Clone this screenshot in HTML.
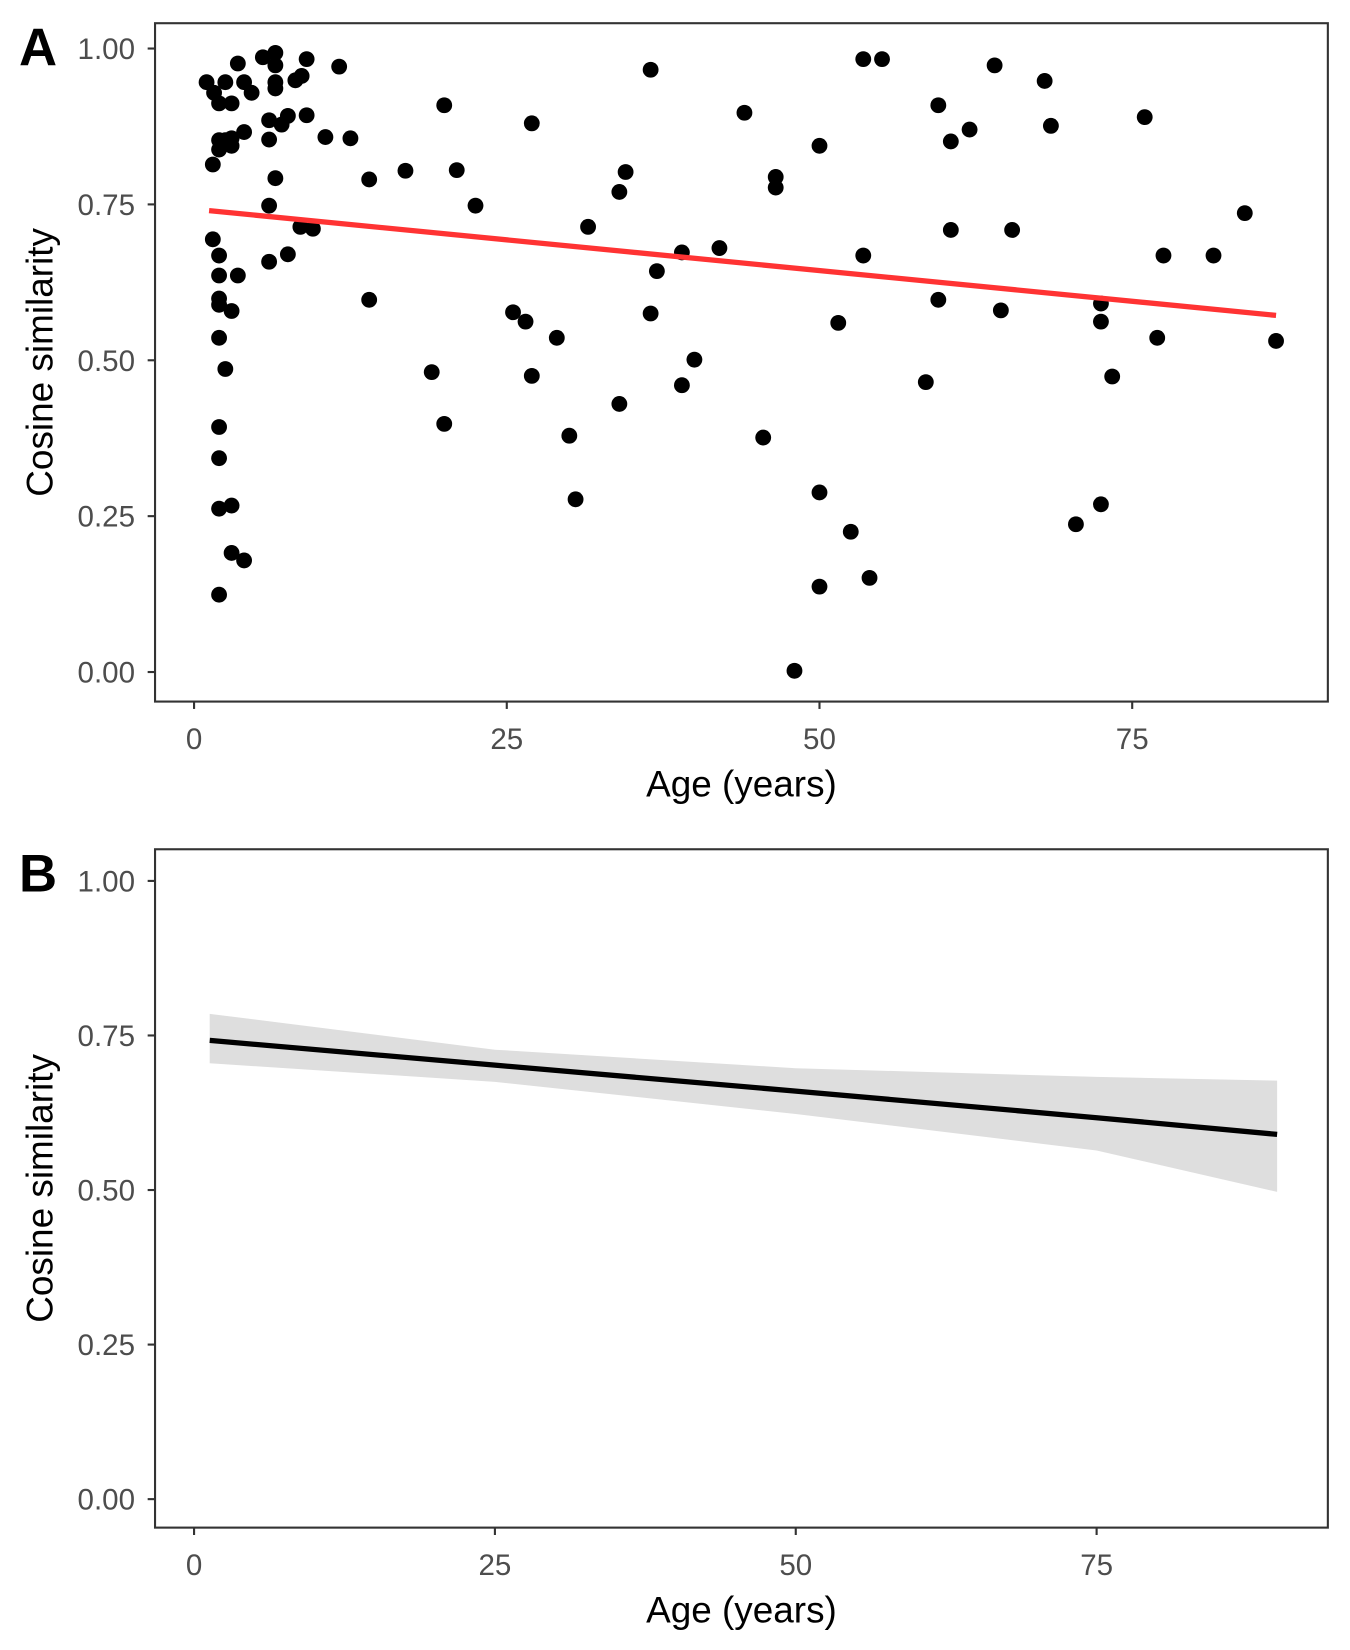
<!DOCTYPE html>
<html><head><meta charset="utf-8"><style>
html,body{margin:0;padding:0;background:#fff;}
svg{display:block;font-family:"Liberation Sans",Arial,sans-serif;}
</style></head><body>
<svg id="chart" width="1350" height="1650" viewBox="0 0 1280 1564" preserveAspectRatio="none" xmlns="http://www.w3.org/2000/svg"></svg>
<script>
const ages=[1.0,1.6,2.5,2.0,3.0,3.5,4.0,4.6,5.5,6.5,6.5,6.5,6.5,8.1,8.6,9.0,11.6,1.5,2.0,2.0,2.5,3.0,3.0,4.0,6.0,6.0,7.0,7.5,9.0,10.5,12.5,6.5,6.0,1.5,2.0,2.0,2.0,2.0,3.0,3.5,2.0,2.5,2.0,2.0,2.0,3.0,3.0,4.0,2.0,6.0,7.5,8.5,9.5,14.0,14.0,16.9,19.0,20.0,20.0,21.0,22.5,25.5,26.5,27.0,27.0,29.0,30.0,30.5,31.5,34.0,34.0,34.5,36.5,36.5,37.0,39.0,39.0,40.0,42.0,44.0,45.5,46.5,46.5,48.0,50.0,50.0,50.0,51.5,52.5,53.5,53.5,54.0,55.0,58.5,59.5,59.5,60.5,60.5,62.0,64.0,64.5,65.4,68.0,68.5,70.5,72.5,72.5,72.5,73.4,76.0,77.0,77.5,81.5,84.0,86.5];
const cosSim=[0.946,0.929,0.946,0.912,0.912,0.976,0.946,0.929,0.986,0.993,0.973,0.946,0.936,0.949,0.956,0.983,0.971,0.814,0.853,0.838,0.853,0.844,0.856,0.866,0.885,0.854,0.878,0.892,0.893,0.858,0.856,0.792,0.748,0.694,0.668,0.636,0.599,0.589,0.579,0.636,0.536,0.486,0.393,0.343,0.262,0.267,0.191,0.179,0.124,0.658,0.670,0.714,0.711,0.790,0.597,0.804,0.481,0.909,0.398,0.805,0.748,0.577,0.562,0.880,0.475,0.536,0.379,0.277,0.714,0.770,0.430,0.802,0.966,0.575,0.643,0.673,0.460,0.501,0.680,0.897,0.376,0.794,0.777,0.002,0.844,0.288,0.137,0.560,0.225,0.983,0.668,0.151,0.983,0.465,0.909,0.597,0.851,0.709,0.870,0.973,0.580,0.709,0.948,0.876,0.237,0.591,0.562,0.269,0.474,0.890,0.536,0.668,0.668,0.736,0.531];
const fitAAges=[1.2,86.5];
const fitAVals=[0.740,0.572];
const fitBAges=[1.3,25,50,75,90];
const fitBVals=[0.742,0.702,0.660,0.617,0.590];
const fitBUpper=[0.785,0.727,0.697,0.683,0.677];
const fitBLower=[0.705,0.675,0.623,0.564,0.497];
const yTicks=[0,0.25,0.5,0.75,1];
const yTickLabels=["0.00","0.25","0.50","0.75","1.00"];
const xTicks=[0,25,50,75];
const xTickLabels=["0","25","50","75"];

const svg=document.getElementById('chart');
const NS='http://www.w3.org/2000/svg';
function mk(tag,attrs,parent){const e=document.createElementNS(NS,tag);for(const k in attrs)e.setAttribute(k,attrs[k]);(parent||svg).appendChild(e);return e;}

function panel(opts){
  const g=mk('g',{});
  
  
  const xS=v=>opts.x0+v*opts.xk;
  const yS=v=>opts.y0-v*opts.yk;
  const frame=mk('rect',{x:147,y:opts.top,width:1112,height:opts.bottom-opts.top,fill:'#fff',stroke:'#333',"stroke-width":2},g);
  
  
  yTicks.forEach((t,i)=>{
    const tk=mk('line',{x1:140,x2:147,y1:yS(t),y2:yS(t),stroke:'#333',"stroke-width":2},g);
    
    
    const tx=mk('text',{x:128,y:yS(t)+10,"text-anchor":'end',"font-size":28,fill:'#4d4d4d'},g);
    tx.textContent=yTickLabels[i];
    
    
  });
  xTicks.forEach((t,i)=>{
    const tk=mk('line',{x1:xS(t),x2:xS(t),y1:opts.bottom,y2:opts.bottom+7,stroke:'#333',"stroke-width":2},g);
    
    
    const tx=mk('text',{x:xS(t),y:opts.bottom+45,"text-anchor":'middle',"font-size":28,fill:'#4d4d4d'},g);
    tx.textContent=xTickLabels[i];
    
    
  });
  const xt=mk('text',{x:703,y:opts.bottom+90,"text-anchor":'middle',"font-size":35,fill:'#000'},g);
  xt.textContent='Age (years)';
  
  
  const cy=(opts.top+opts.bottom)/2;
  const yt=mk('text',{x:50,y:cy,"text-anchor":'middle',"font-size":35,fill:'#000',transform:`rotate(-90 50 ${cy})`},g);
  yt.textContent='Cosine similarity';
  
  
  const lab=mk('text',{x:18,y:opts.top+40,"font-size":50,"font-weight":'bold',fill:'#000'},g);
  lab.textContent=opts.letter;
  
  
  return {g,xS,yS};
}

const A=panel({name:'panel-a',letter:'A',top:22,bottom:665,x0:184,xk:11.86,y0:637,yk:591});
ages.forEach((a,i)=>{
  const c=mk('circle',{cx:A.xS(a),cy:A.yS(cosSim[i]),r:7.5,fill:'#000'},A.g);
  
  
});
const la=mk('line',{x1:A.xS(fitAAges[0]),y1:A.yS(fitAVals[0]),x2:A.xS(fitAAges[1]),y2:A.yS(fitAVals[1]),stroke:'#ff3333',"stroke-width":5},A.g);



const B=panel({name:'panel-b',letter:'B',top:805,bottom:1448,x0:184,xk:11.41,y0:1421,yk:586});
let pts=fitBAges.map((a,i)=>B.xS(a)+','+B.yS(fitBUpper[i]));
pts=pts.concat(fitBAges.map((a,i)=>B.xS(a)+','+B.yS(fitBLower[i])).reverse());
const rib=mk('polygon',{points:pts.join(' '),fill:'#dedede'},B.g);


const lb=mk('polyline',{points:fitBAges.map((a,i)=>B.xS(a)+','+B.yS(fitBVals[i])).join(' '),fill:'none',stroke:'#000',"stroke-width":5},B.g);


</script>
</body></html>
